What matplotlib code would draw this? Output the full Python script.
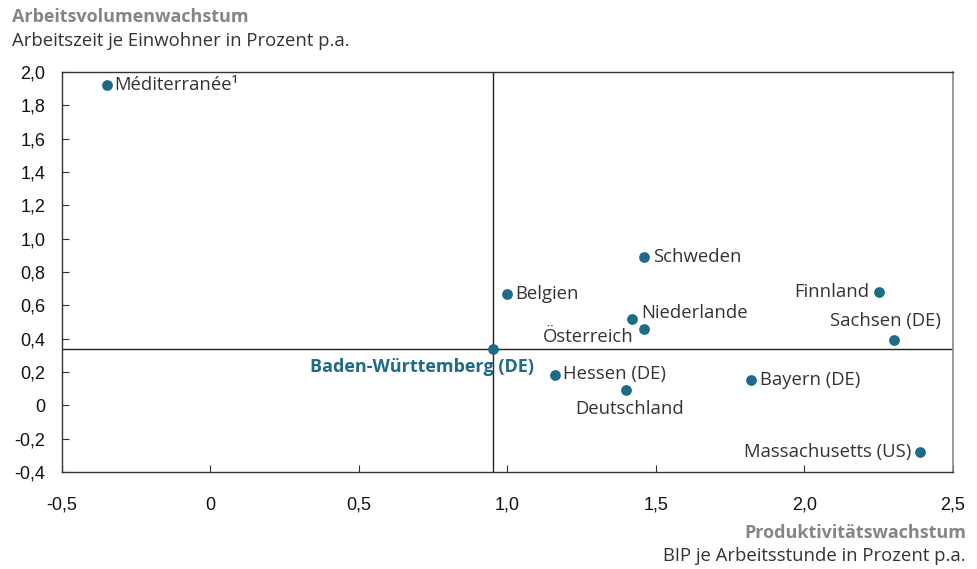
import matplotlib
matplotlib.use("Agg")
import matplotlib.pyplot as plt

names = ["Méditerranée¹", "Baden-Württemberg (DE)", "Belgien", "Schweden", "Niederlande",
         "Österreich", "Hessen (DE)", "Deutschland", "Bayern (DE)", "Finnland",
         "Sachsen (DE)", "Massachusetts (US)"]
productivity = [-0.35, 0.95, 1.0, 1.46, 1.42, 1.46, 1.16, 1.40, 1.82, 2.25, 2.30, 2.39]
work_volume = [1.92, 0.34, 0.67, 0.89, 0.52, 0.46, 0.18, 0.09, 0.15, 0.68, 0.39, -0.28]
# label placement: (dx px, dy px, ha, va)
label_pos = [(8, 0, "left", "center"), (41, -18, "right", "center"), (8, 0, "left", "center"),
             (9, 0, "left", "center"), (9, 6, "left", "center"), (-10, -8, "right", "center"),
             (8, 1, "left", "center"), (3, -19, "center", "center"), (9, 0, "left", "center"),
             (-9, 0, "right", "center"), (47, 19, "right", "center"), (-9, 0, "right", "center")]

x_ticks = [-0.5, 0, 0.5, 1.0, 1.5, 2.0, 2.5]
x_ticklabels = ["-0,5", "0", "0,5", "1,0", "1,5", "2,0", "2,5"]
y_ticks = [-0.4, -0.2, 0, 0.2, 0.4, 0.6, 0.8, 1.0, 1.2, 1.4, 1.6, 1.8, 2.0]
y_ticklabels = ["-0,4", "-0,2", "0", "0,2", "0,4", "0,6", "0,8", "1,0", "1,2", "1,4", "1,6", "1,8", "2,0"]

dot_color = "#1d6b87"
label_font = "Open Sans"
tick_font = "Liberation Sans"
fs = 13.3

fig = plt.figure(figsize=(9.77, 5.69), dpi=100)
ax = fig.add_axes([62/977, 1-472/569, (953-62)/977, (472-72)/569])

ax.set_xlim(-0.5, 2.5)
ax.set_ylim(-0.4, 2.0)

bw = names.index("Baden-Württemberg (DE)")
ax.axvline(productivity[bw], color="#222222", lw=1.0, zorder=1)
ax.axhline(work_volume[bw], color="#222222", lw=1.0, zorder=1)

ax.scatter(productivity, work_volume, s=60, color=dot_color, zorder=3, linewidths=0)

for i, n in enumerate(names):
    dx, dy, ha, va = label_pos[i]
    if i == bw:
        ax.annotate(n, (productivity[i], work_volume[i]), xytext=(dx, dy), textcoords="offset pixels",
                    ha=ha, va=va, fontsize=13.0, fontweight="bold", color=dot_color, family=label_font)
    else:
        ax.annotate(n, (productivity[i], work_volume[i]), xytext=(dx, dy), textcoords="offset pixels",
                    ha=ha, va=va, fontsize=fs, color="#333333", family=label_font)

ax.set_xticks(x_ticks)
ax.set_xticklabels(x_ticklabels, family=tick_font, fontsize=13, color="#111111")
ax.set_yticks(y_ticks)
ax.set_yticklabels(y_ticklabels, family=tick_font, fontsize=13, color="#111111")
ax.tick_params(axis="both", direction="in", length=5, width=0.8, color="#333333")
ax.tick_params(axis="x", pad=18)
ax.tick_params(axis="y", pad=12)

for s in ["left", "bottom", "top"]:
    ax.spines[s].set_color("#333333")
    ax.spines[s].set_linewidth(1.0)
ax.spines["right"].set_color("#888888")
ax.spines["right"].set_linewidth(1.2)

fig.text(12/977, 1-17/569, "Arbeitsvolumenwachstum", family=label_font, fontsize=13.0,
         fontweight="bold", color="#858585", ha="left", va="center")
fig.text(12/977, 1-41/569, "Arbeitszeit je Einwohner in Prozent p.a.", family=label_font, fontsize=fs,
         color="#333333", ha="left", va="center")
fig.text(966/977, 1-533/569, "Produktivitätswachstum", family=label_font, fontsize=13.0,
         fontweight="bold", color="#858585", ha="right", va="center")
fig.text(966/977, 1-556/569, "BIP je Arbeitsstunde in Prozent p.a.", family=label_font, fontsize=fs,
         color="#333333", ha="right", va="center")

fig.savefig("out.png", dpi=100)
